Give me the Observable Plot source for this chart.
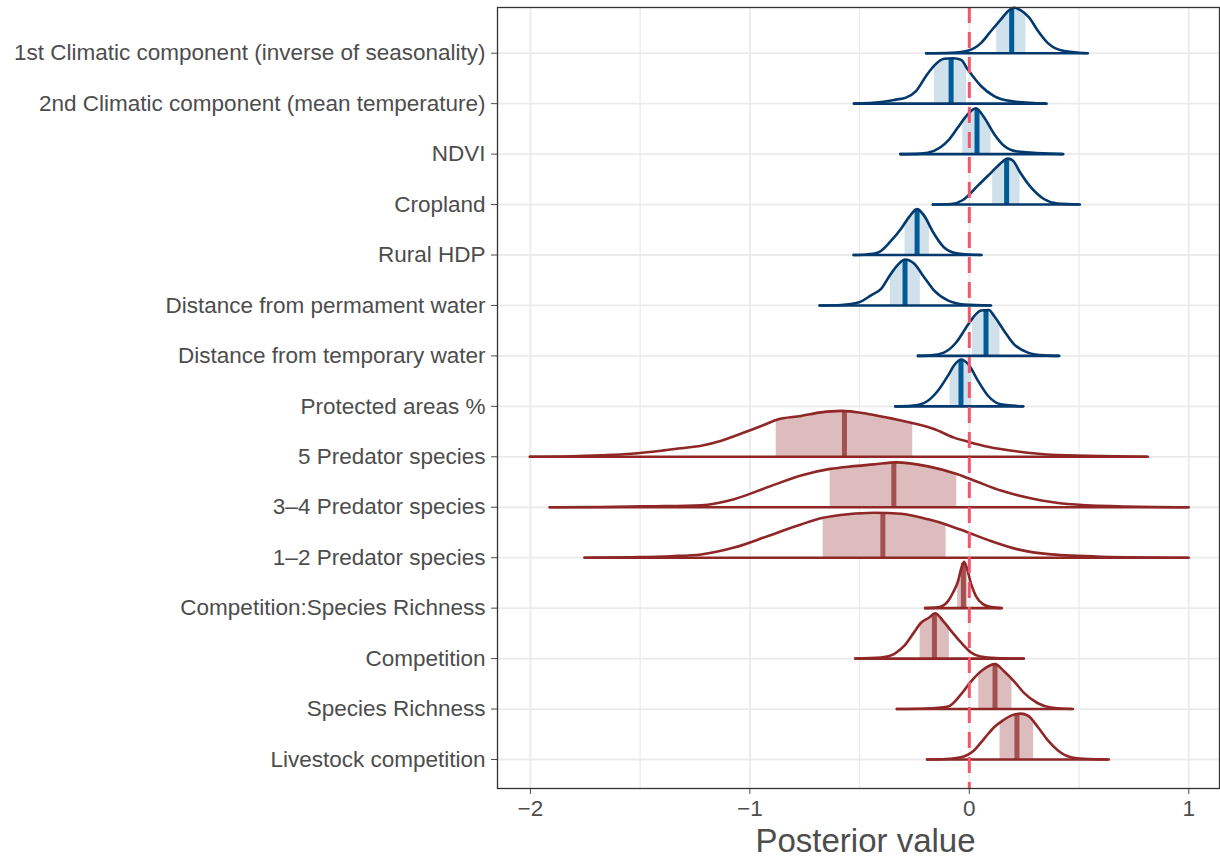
<!DOCTYPE html>
<html><head><meta charset="utf-8">
<script src="https://cdn.jsdelivr.net/npm/d3@7"></script>
<script src="https://cdn.jsdelivr.net/npm/@observablehq/plot@0.6"></script>
<style>html,body{margin:0;padding:0;background:#fff}</style>
</head><body><div id="chart"></div>
<script>
const parameters = [
  "1st Climatic component (inverse of seasonality)",
  "2nd Climatic component (mean temperature)",
  "NDVI",
  "Cropland",
  "Rural HDP",
  "Distance from permament water",
  "Distance from temporary water",
  "Protected areas %",
  "5 Predator species",
  "3\u20134 Predator species",
  "1\u20132 Predator species",
  "Competition:Species Richness",
  "Competition",
  "Species Richness",
  "Livestock competition"
];
const groups = ["blue","blue","blue","blue","blue","blue","blue","blue","red","red","red","red","red","red","red"];
const medians = [0.193,-0.083,0.035,0.17,-0.238,-0.293,0.076,-0.038,-0.569,-0.344,-0.394,-0.027,-0.159,0.117,0.217];
const intervalLow = [0.125,-0.159,-0.03,0.106,-0.293,-0.36,0.015,-0.088,-0.88,-0.634,-0.666,-0.053,-0.224,0.043,0.14];
const intervalHigh = [0.258,-0.012,0.099,0.231,-0.182,-0.223,0.14,0.012,-0.258,-0.057,-0.106,-0.007,-0.091,0.194,0.293];
const densityX = [
  [-0.197,-0.083,0.0,0.053,0.099,0.144,0.176,0.204,0.235,0.272,0.313,0.358,0.417,0.54],
  [-0.526,-0.402,-0.334,-0.289,-0.243,-0.197,-0.161,-0.115,-0.074,-0.038,-0.006,0.053,0.113,0.19,0.352],
  [-0.315,-0.22,-0.161,-0.098,-0.052,-0.015,0.03,0.067,0.113,0.158,0.22,0.428],
  [-0.167,-0.083,-0.029,0.04,0.085,0.131,0.176,0.199,0.231,0.281,0.34,0.402,0.504],
  [-0.528,-0.47,-0.416,-0.357,-0.311,-0.275,-0.238,-0.206,-0.165,-0.115,-0.052,0.056],
  [-0.683,-0.584,-0.502,-0.448,-0.402,-0.357,-0.325,-0.293,-0.252,-0.206,-0.161,-0.098,-0.024,0.099],
  [-0.235,-0.175,-0.116,-0.061,-0.015,0.017,0.053,0.089,0.113,0.158,0.204,0.267,0.34,0.41],
  [-0.338,-0.266,-0.207,-0.143,-0.097,-0.07,-0.038,-0.006,0.039,0.085,0.144,0.246],
  [-2.003,-1.813,-1.677,-1.54,-1.404,-1.313,-1.222,-1.13,-1.039,-0.948,-0.88,-0.767,-0.676,-0.585,-0.462,-0.343,-0.252,-0.161,-0.07,-0.006,0.085,0.221,0.372,0.6,0.814],
  [-1.913,-1.677,-1.45,-1.222,-1.072,-0.917,-0.767,-0.634,-0.539,-0.434,-0.334,-0.188,-0.057,0.039,0.144,0.295,0.448,0.676,1.0],
  [-1.754,-1.54,-1.358,-1.222,-1.072,-0.917,-0.767,-0.666,-0.553,-0.434,-0.311,-0.188,-0.106,-0.006,0.099,0.221,0.372,0.6,1.0],
  [-0.202,-0.152,-0.12,-0.097,-0.074,-0.051,-0.038,-0.024,-0.011,0.008,0.03,0.062,0.099,0.148],
  [-0.52,-0.402,-0.343,-0.297,-0.252,-0.22,-0.184,-0.156,-0.12,-0.083,-0.038,0.008,0.067,0.144,0.249],
  [-0.331,-0.197,-0.097,-0.038,0.008,0.062,0.117,0.158,0.204,0.249,0.31,0.372,0.472],
  [-0.193,-0.106,-0.038,0.021,0.067,0.113,0.152,0.19,0.235,0.267,0.313,0.358,0.404,0.463,0.522,0.636]
];
const densityH = [
  [0,0.01,0.06,0.2,0.44,0.67,0.83,0.9,0.85,0.71,0.44,0.2,0.06,0],
  [0,0.03,0.08,0.12,0.25,0.55,0.75,0.89,0.9,0.87,0.67,0.35,0.15,0.05,0],
  [0,0.01,0.065,0.26,0.53,0.75,0.91,0.73,0.4,0.165,0.05,0],
  [0,0.01,0.09,0.38,0.57,0.77,0.91,0.87,0.64,0.34,0.11,0.02,0],
  [0,0.01,0.05,0.28,0.52,0.75,0.91,0.78,0.45,0.15,0.03,0],
  [0,0.01,0.065,0.2,0.33,0.63,0.81,0.91,0.83,0.56,0.3,0.1,0.02,0],
  [0,0.01,0.065,0.26,0.56,0.76,0.9,0.91,0.79,0.5,0.23,0.065,0.01,0],
  [0,0.01,0.065,0.31,0.61,0.81,0.93,0.84,0.51,0.21,0.04,0],
  [0,0.01,0.03,0.06,0.12,0.17,0.22,0.32,0.46,0.61,0.73,0.81,0.88,0.91,0.85,0.75,0.66,0.55,0.38,0.3,0.2,0.105,0.04,0.014,0],
  [0,0.006,0.02,0.04,0.16,0.4,0.63,0.76,0.81,0.85,0.89,0.81,0.66,0.5,0.33,0.165,0.065,0.02,0],
  [0,0.01,0.03,0.065,0.2,0.43,0.66,0.79,0.86,0.89,0.87,0.76,0.66,0.5,0.33,0.165,0.065,0.02,0],
  [0,0.01,0.05,0.14,0.31,0.54,0.77,0.92,0.79,0.48,0.24,0.08,0.02,0],
  [0,0.02,0.09,0.25,0.52,0.71,0.81,0.9,0.75,0.55,0.32,0.12,0.03,0.006,0],
  [0,0.01,0.05,0.29,0.55,0.78,0.89,0.75,0.55,0.32,0.12,0.03,0],
  [0,0.01,0.045,0.18,0.41,0.64,0.77,0.87,0.91,0.87,0.64,0.38,0.18,0.045,0.014,0]
];
const xTicks = [-2,-1,0,1];
const xMinorGrid = [-1.5,-0.5,0.5];
const xLabel = "Posterior value";

const palette = {
  blue: {outline:"#03396c", fill:"#d1e1ec", median:"#005b96"},
  red: {outline:"#8f2727", fill:"#dcbcbc", median:"#a25050"}
};

function heightAt(xs, hs, v) {
  for (let j = 0; j < xs.length - 1; j++) {
    if (v >= xs[j] && v <= xs[j+1]) {
      const t = (v - xs[j]) / (xs[j+1] - xs[j]);
      return hs[j] + t * (hs[j+1] - hs[j]);
    }
  }
  return 0;
}

const curvePts = [], fillPts = [], medianRows = [], baseRows = [];
parameters.forEach((p, i) => {
  const xs = densityX[i], hs = densityH[i], g = groups[i];
  xs.forEach((x, j) => curvePts.push({p, g, row: i, x, top: i - hs[j]}));
  const lo = intervalLow[i], hi = intervalHigh[i];
  fillPts.push({p, g, row: i, x: lo, top: i - heightAt(xs, hs, lo)});
  xs.forEach((x, j) => { if (x > lo && x < hi) fillPts.push({p, g, row: i, x, top: i - hs[j]}); });
  fillPts.push({p, g, row: i, x: hi, top: i - heightAt(xs, hs, hi)});
  medianRows.push({p, g, row: i, x: medians[i], top: i - heightAt(xs, hs, medians[i])});
  baseRows.push({p, g, row: i, x1: xs[0], x2: xs[xs.length - 1]});
});

const marks = [
  Plot.ruleX(xMinorGrid, {stroke: "#ebebeb", strokeWidth: 1.3}),
  Plot.ruleX(xTicks, {stroke: "#ebebeb", strokeWidth: 1.8}),
  Plot.ruleY(d3.range(parameters.length), {stroke: "#ebebeb", strokeWidth: 1.8})
];
for (const g of ["blue", "red"]) {
  const c = palette[g];
  marks.push(
    Plot.areaY(fillPts.filter(d => d.g === g), {x: "x", y1: "row", y2: "top", z: "p", fill: c.fill, curve: "monotone-x"}),
    Plot.ruleX(medianRows.filter(d => d.g === g), {x: "x", y1: "row", y2: "top", stroke: c.median, strokeWidth: 5}),
    Plot.line(curvePts.filter(d => d.g === g), {x: "x", y: "top", z: "p", stroke: c.outline, strokeWidth: 2.6, curve: "monotone-x"}),
    Plot.ruleY(baseRows.filter(d => d.g === g), {y: "row", x1: "x1", x2: "x2", stroke: c.outline, strokeWidth: 2.6})
  );
}
marks.push(
  Plot.ruleX([0], {stroke: "#f2566c", strokeWidth: 3, strokeDasharray: "16,9"}),
  Plot.frame({stroke: "#333333", strokeWidth: 1.3}),
  Plot.text([xLabel], {frameAnchor: "bottom", dx: 7, dy: 63, fontSize: 33, fill: "#4d4d4d"})
);

const chart = Plot.plot({
  width: 1220,
  height: 862,
  marginLeft: 497,
  marginRight: 1,
  marginTop: 7,
  marginBottom: 74,
  style: {fontFamily: "'Liberation Sans', Arial, Helvetica, sans-serif", fontSize: "22.5px", color: "#4d4d4d", background: "#ffffff"},
  x: {domain: [-2.15, 1.14], ticks: xTicks, tickFormat: d => d < 0 ? "\u2212" + Math.abs(d) : String(d), tickSize: 6, tickPadding: 6, label: null},
  y: {domain: [14.575, -0.906], ticks: d3.range(parameters.length), tickFormat: i => parameters[i], tickSize: 6, tickPadding: 6, label: null},
  marks
});
document.getElementById("chart").appendChild(chart);
</script>
</body></html>
